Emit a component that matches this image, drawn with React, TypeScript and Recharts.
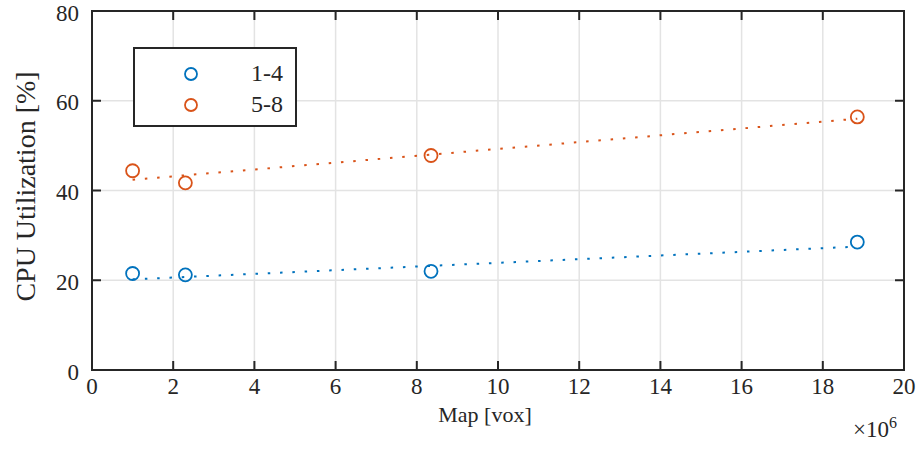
import React from "react";
import {
  ComposedChart,
  Scatter,
  Line,
  XAxis,
  YAxis,
  CartesianGrid,
  Legend,
  Label,
  ReferenceArea,
} from "recharts";

// map size in units of 10^6 voxels
const mapSizes = [1.0, 2.3, 8.35, 18.85];
const cpu14 = [21.5, 21.2, 22.0, 28.5];
const cpu58 = [44.4, 41.7, 47.8, 56.4];

// dotted trend lines at their end points
const trendX = [1.0, 18.85];
const trend14 = [20.2, 27.5];
const trend58 = [42.4, 56.0];

const xTicks = [0, 2, 4, 6, 8, 10, 12, 14, 16, 18, 20];
const yTicks = [0, 20, 40, 60, 80];

const seriesNames = ["1-4", "5-8"];
const BLUE = "#0072BD";
const ORANGE = "#D95319";
const INK = "#262626";
const FONT = "'Liberation Serif', serif";

// plot box (MATLAB draws ticks inward on all four sides)
const W = 919;
const H = 450;
const M = { top: 11, right: 15, bottom: 0, left: 0 };
const XAXIS_H = 80;
const YAXIS_W = 92;
const TOP = M.top;
const BOTTOM = H - M.bottom - XAXIS_H;
const LEFT = M.left + YAXIS_W;
const RIGHT = W - M.right;
const TICK = 9;

const pts = (xs: number[], ys: number[]) => xs.map((x, i) => ({ x, y: ys[i] }));

const ring = (color: string) => (props: any) => (
  <circle cx={props.cx} cy={props.cy} r={6.5} fill="none" stroke={color} strokeWidth={1.8} />
);

const BottomTick = (p: any) => (
  <g>
    <line x1={p.x} x2={p.x} y1={BOTTOM} y2={BOTTOM - TICK} stroke={INK} strokeWidth={2} />
    <line x1={p.x} x2={p.x} y1={TOP} y2={TOP + TICK} stroke={INK} strokeWidth={2} />
    <text x={p.x} y={BOTTOM + 24} textAnchor="middle" fill={INK} fontFamily={FONT} fontSize={23}>
      {p.payload.value}
    </text>
  </g>
);

const LeftTick = (p: any) => (
  <g>
    <line x1={LEFT} x2={LEFT + TICK} y1={p.y} y2={p.y} stroke={INK} strokeWidth={2} />
    <line x1={RIGHT} x2={RIGHT - TICK} y1={p.y} y2={p.y} stroke={INK} strokeWidth={2} />
    <text x={LEFT - 13} y={p.y} dy={9.5} textAnchor="end" fill={INK} fontFamily={FONT} fontSize={23}>
      {p.payload.value}
    </text>
  </g>
);

function LegendBox() {
  const colors = [BLUE, ORANGE];
  return (
    <div
      style={{
        width: 164,
        height: 80,
        border: `2px solid ${INK}`,
        background: "#fff",
        boxSizing: "border-box",
        paddingTop: 9,
        fontFamily: FONT,
        fontSize: 24,
        color: INK,
      }}
    >
      {seriesNames.map((name, i) => (
        <div key={name} style={{ display: "flex", alignItems: "center", height: 31 }}>
          <svg width={16} height={16} style={{ marginLeft: 48 }}>
            <circle cx={8} cy={8} r={6} fill="none" stroke={colors[i]} strokeWidth={1.8} />
          </svg>
          <span style={{ marginLeft: "auto", marginRight: 12 }}>{name}</span>
        </div>
      ))}
    </div>
  );
}

export default function App() {
  return (
    <div style={{ position: "absolute", left: 0, top: 0, background: "#fff" }}>
      <ComposedChart width={W} height={H} margin={M}>
        <CartesianGrid stroke="#e3e3e3" strokeWidth={1.5} />
        <XAxis
          type="number"
          dataKey="x"
          domain={[0, 20]}
          ticks={xTicks}
          height={XAXIS_H}
          axisLine={false}
          tickLine={false}
          tick={BottomTick}
          allowDataOverflow
        >
          <Label
            value="Map [vox]"
            position="insideBottom"
            offset={28}
            dx={-13}
            style={{ fontSize: 22, fill: INK, fontFamily: FONT }}
          />
          <Label
            content={(p: any) => {
              const vb = p.viewBox;
              return (
                <text x={vb.x + vb.width - 51} y={vb.y + 67} fill={INK} fontFamily={FONT} fontSize={23}>
                  ×10
                  <tspan dy={-9} fontSize={16}>6</tspan>
                </text>
              );
            }}
          />
        </XAxis>
        <YAxis
          type="number"
          domain={[0, 80]}
          ticks={yTicks}
          width={YAXIS_W}
          axisLine={false}
          tickLine={false}
          tick={LeftTick}
        >
          <Label
            value="CPU Utilization [%]"
            angle={-90}
            position="insideLeft"
            offset={25}
            dy={-4}
            style={{ fontSize: 28, fill: INK, fontFamily: FONT, textAnchor: "middle" }}
          />
        </YAxis>
        <ReferenceArea x1={0} x2={20} y1={0} y2={80} fill="none" stroke={INK} strokeWidth={2} />
        <Legend
          layout="vertical"
          verticalAlign="middle"
          align="center"
          content={() => <LegendBox />}
          wrapperStyle={{ left: 133, top: 47, width: 164 }}
        />
        <Line
          data={pts(trendX, trend14)}
          dataKey="y"
          stroke={BLUE}
          strokeWidth={2}
          strokeDasharray="2.5 9.8"
          dot={false}
          legendType="none"
          isAnimationActive={false}
        />
        <Line
          data={pts(trendX, trend58)}
          dataKey="y"
          stroke={ORANGE}
          strokeWidth={2}
          strokeDasharray="2.5 9.8"
          dot={false}
          legendType="none"
          isAnimationActive={false}
        />
        <Scatter
          name={seriesNames[0]}
          data={pts(mapSizes, cpu14)}
          dataKey="y"
          shape={ring(BLUE)}
          isAnimationActive={false}
        />
        <Scatter
          name={seriesNames[1]}
          data={pts(mapSizes, cpu58)}
          dataKey="y"
          shape={ring(ORANGE)}
          isAnimationActive={false}
        />
      </ComposedChart>
    </div>
  );
}
